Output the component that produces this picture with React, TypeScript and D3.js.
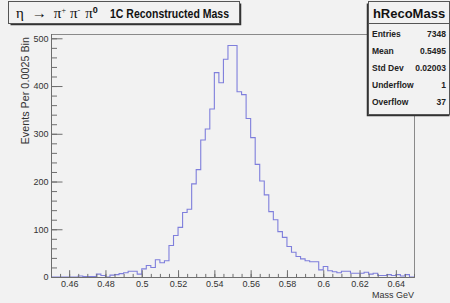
import React, { useRef, useEffect } from 'react';
import * as d3 from 'd3';

// Histogram range and bin contents (80 bins of 0.0025 GeV)
const massLow = 0.45;
const massHigh = 0.65;
const binCounts = [
  0, 0, 0, 0, 0, 0, 2, 1, 1, 1,
  6, 3, 0, 4, 5, 7, 9, 12, 12, 6,
  17, 24, 20, 36, 30, 34, 66, 87, 104, 135,
  142, 195, 225, 287, 310, 352, 428, 407, 456, 485,
  485, 388, 382, 332, 292, 236, 201, 172, 137, 120,
  95, 83, 64, 52, 43, 38, 34, 32, 32, 15,
  22, 13, 11, 9, 12, 12, 8, 8, 8, 10,
  6, 8, 3, 3, 5, 3, 5, 2, 5, 0,
];

const xTickValues = [0.46, 0.48, 0.5, 0.52, 0.54, 0.56, 0.58, 0.6, 0.62, 0.64];
const yTickValues = [0, 100, 200, 300, 400, 500];

const statLabels = ['Entries', 'Mean', 'Std Dev', 'Underflow', 'Overflow'];
const statValues = ['7348', '0.5495', '0.02003', '1', '37'];

const BG = '#f2f2f2';
const LINE_COLOR = '#7f7fdc';
const AXIS_COLOR = '#6e6e6e';
const TEXT_COLOR = '#333';
const FONT = '"Liberation Sans", Arial, sans-serif';

export default function App() {
  const svgRef = useRef<SVGSVGElement>(null);
  const width = 450;
  const height = 303;

  useEffect(() => {
    document.body.style.margin = '0';
    const svg = d3.select(svgRef.current);
    svg.selectAll('*').remove();

    const frame = { left: 51, right: 414, top: 34, bottom: 277 };

    svg.append('rect').attr('width', width).attr('height', height).attr('fill', BG);

    const x = d3.scaleLinear().domain([massLow, massHigh]).range([frame.left, frame.right]);
    const y = d3.scaleLinear().domain([0, 509]).range([frame.bottom, frame.top]);

    // frame
    svg.append('rect')
      .attr('x', frame.left + 0.5)
      .attr('y', frame.top + 0.5)
      .attr('width', frame.right - frame.left)
      .attr('height', frame.bottom - frame.top)
      .attr('fill', 'none')
      .attr('stroke', '#8a8a8a');

    // histogram outline (steps)
    const nBins = binCounts.length;
    const binW = (massHigh - massLow) / nBins;
    const pts: [number, number][] = [];
    binCounts.forEach((c, i) => {
      pts.push([x(massLow + i * binW), y(c)]);
      pts.push([x(massLow + (i + 1) * binW), y(c)]);
    });
    pts.push([x(massHigh), y(0)]);
    svg.append('path')
      .attr('d', d3.line()(pts))
      .attr('fill', 'none')
      .attr('stroke', LINE_COLOR)
      .attr('stroke-width', 1.1);

    // y axis
    const yMinor = d3.range(0, 509, 20);
    const yAxisMinor = svg.append('g')
      .attr('transform', `translate(${frame.left + 0.5},0)`)
      .call(d3.axisLeft(y).tickValues(yMinor).tickSize(-5.5).tickFormat(() => ''));
    yAxisMinor.select('.domain').remove();
    const yAxis = svg.append('g')
      .attr('transform', `translate(${frame.left + 0.5},0)`)
      .call(d3.axisLeft(y).tickValues(yTickValues).tickSize(-11).tickPadding(3).tickFormat(d3.format('d')));
    yAxis.select('.domain').attr('d', `M0,${frame.top}V${frame.bottom + 0.5}`);

    // x axis
    const xMinor = d3.range(0, 41).map(i => massLow + i * 0.005);
    const xAxisMinor = svg.append('g')
      .attr('transform', `translate(0,${frame.bottom + 0.5})`)
      .call(d3.axisBottom(x).tickValues(xMinor).tickSize(-3.6).tickFormat(() => ''));
    xAxisMinor.select('.domain').remove();
    const xAxis = svg.append('g')
      .attr('transform', `translate(0,${frame.bottom + 0.5})`)
      .call(d3.axisBottom(x).tickValues(xTickValues).tickSize(-7.3).tickFormat(d => String(+d)));
    xAxis.select('.domain').attr('d', `M${frame.left},0H${frame.right + 0.5}`);

    [yAxis, yAxisMinor, xAxis, xAxisMinor].forEach(g => {
      g.selectAll('line').attr('stroke', AXIS_COLOR);
      g.selectAll('.domain').attr('stroke', AXIS_COLOR);
      g.selectAll('text')
        .style('font-family', FONT)
        .style('font-size', '9px')
        .attr('fill', TEXT_COLOR);
    });
    xAxis.selectAll('text').attr('y', 3).attr('dy', '0.71em');

    // axis titles
    svg.append('text')
      .attr('x', frame.right)
      .attr('y', 297.5)
      .attr('text-anchor', 'end')
      .style('font-family', FONT)
      .style('font-size', '9px')
      .attr('fill', TEXT_COLOR)
      .text('Mass GeV');

    svg.append('text')
      .attr('transform', `translate(29,37) rotate(-90)`)
      .attr('text-anchor', 'end')
      .style('font-family', FONT)
      .style('font-size', '10.8px')
      .attr('fill', TEXT_COLOR)
      .text('Events Per 0.0025 Bin');

    // title box
    const tb = { x: 8.5, y: 1.5, w: 231, h: 22 };
    svg.append('path')
      .attr('d', `M${tb.x + 2},${tb.y + tb.h + 1}H${tb.x + tb.w + 1}V${tb.y + 2}`)
      .attr('fill', 'none')
      .attr('stroke', '#333')
      .attr('stroke-width', 1.5);
    svg.append('rect')
      .attr('x', tb.x).attr('y', tb.y).attr('width', tb.w).attr('height', tb.h)
      .attr('fill', BG).attr('stroke', '#555');

    const greek = svg.append('text')
      .attr('x', 16)
      .attr('y', 18)
      .style('font-family', '"Liberation Serif", "DejaVu Serif", serif')
      .style('font-size', '15px')
      .attr('fill', '#111');
    greek.append('tspan').text('η');
    greek.append('tspan').attr('dx', 8).text('→');
    greek.append('tspan').attr('dx', 7).text('π');
    greek.append('tspan').attr('dy', -5).style('font-size', '8px').text('+');
    greek.append('tspan').attr('dy', 5).attr('dx', 4).text('π');
    greek.append('tspan').attr('dy', -5).style('font-size', '8px').text('-');
    greek.append('tspan').attr('dy', 5).attr('dx', 5).text('π');
    greek.append('tspan').attr('dy', -5).style('font-size', '9px').style('font-family', FONT).style('font-weight', 'bold').text('0');

    svg.append('text')
      .attr('x', 110)
      .attr('y', 18)
      .attr('textLength', 119)
      .attr('lengthAdjust', 'spacingAndGlyphs')
      .style('font-family', FONT)
      .style('font-size', '13px')
      .style('font-weight', 'bold')
      .attr('fill', '#111')
      .text('1C Reconstructed Mass');

    // stats box
    const sb = { x: 368.5, y: 1.5, w: 81, h: 113 };
    svg.append('path')
      .attr('d', `M${sb.x - 1},${sb.y + 2}V${sb.y + sb.h + 1}H${sb.x + sb.w}`)
      .attr('fill', 'none')
      .attr('stroke', '#333')
      .attr('stroke-width', 1.5);
    svg.append('rect')
      .attr('x', sb.x).attr('y', sb.y).attr('width', sb.w).attr('height', sb.h)
      .attr('fill', BG).attr('stroke', '#555');
    svg.append('line')
      .attr('x1', sb.x).attr('x2', sb.x + sb.w)
      .attr('y1', 23.5).attr('y2', 23.5)
      .attr('stroke', '#555');
    svg.append('text')
      .attr('x', sb.x + sb.w / 2)
      .attr('y', 18)
      .attr('text-anchor', 'middle')
      .style('font-family', FONT)
      .style('font-size', '13px')
      .style('font-weight', 'bold')
      .attr('fill', '#111')
      .text('hRecoMass');

    statLabels.forEach((label, i) => {
      const rowY = 36.5 + i * 17.1;
      svg.append('text')
        .attr('x', 372)
        .attr('y', rowY)
        .style('font-family', FONT)
        .style('font-size', '8.5px')
        .style('font-weight', 'bold')
        .attr('fill', '#222')
        .text(label);
      svg.append('text')
        .attr('x', 446)
        .attr('y', rowY)
        .attr('text-anchor', 'end')
        .style('font-family', FONT)
        .style('font-size', '8.5px')
        .style('font-weight', 'bold')
        .attr('fill', '#222')
        .text(statValues[i]);
    });
  }, []);

  return (
    <svg
      ref={svgRef}
      width={width}
      height={height}
      viewBox={`0 0 ${width} ${height}`}
      style={{ display: 'block' }}
    />
  );
}
